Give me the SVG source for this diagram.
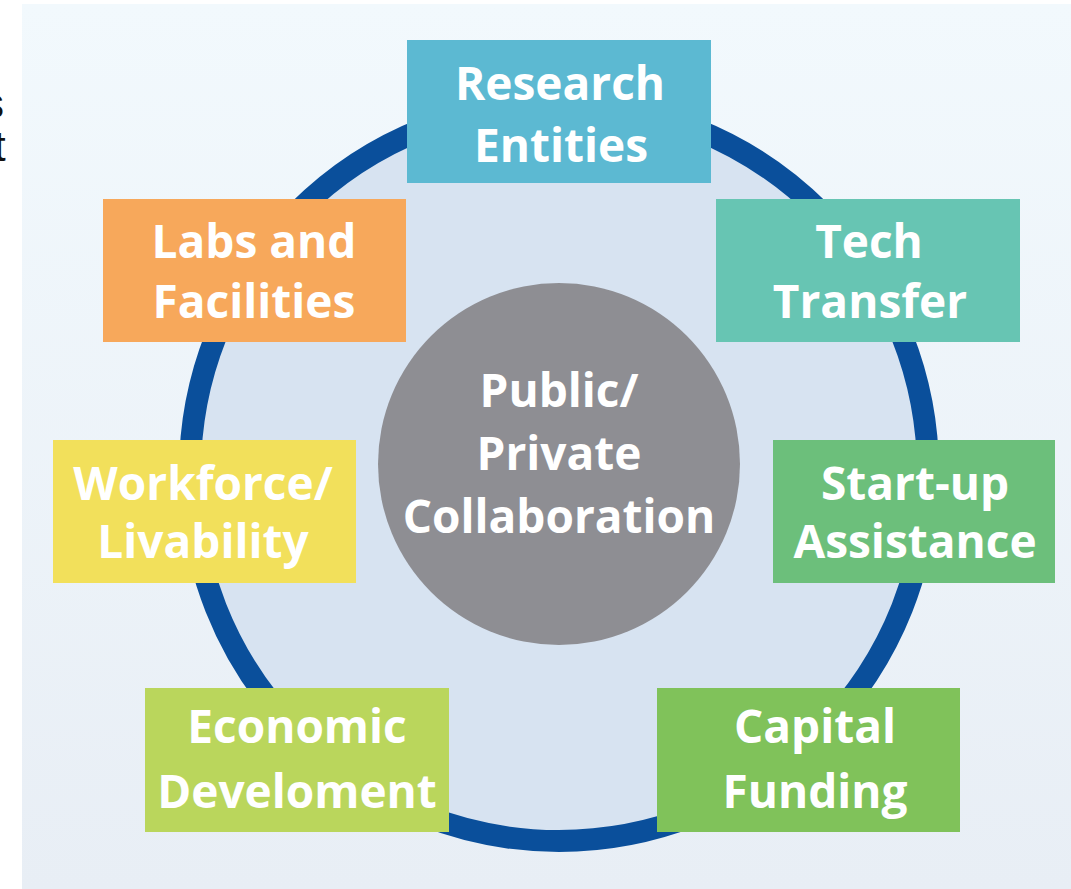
<svg xmlns="http://www.w3.org/2000/svg" width="1071" height="889" viewBox="0 0 1071 889">
<defs>
<linearGradient id="bg" x1="0" y1="0" x2="0" y2="1">
<stop offset="0" stop-color="#f2f9fd"/>
<stop offset="1" stop-color="#e8eef5"/>
</linearGradient>
</defs>
<style>
.lbl{font-family:"Open Sans","Noto Sans","Liberation Sans",sans-serif;font-weight:bold;font-size:46px;fill:#ffffff;text-anchor:middle}
.edge{font-family:"Liberation Sans",sans-serif;font-size:42px;fill:#111}
</style>
<rect x="0" y="0" width="1071" height="889" fill="#ffffff"/>
<text class="edge" x="-17" y="118">s</text>
<text class="edge" x="-6" y="161">t</text>
<rect x="22" y="4" width="1049" height="885" fill="url(#bg)"/>
<g id="connectors">
<circle cx="559" cy="472" r="369" fill="#d7e3f1" stroke="#0a4f9b" stroke-width="22"/>
</g>
<g id="center">
<circle cx="559" cy="464" r="181" fill="#8e8e93"/>
<text class="lbl" x="559" y="407">Public/</text>
<text class="lbl" x="559" y="470">Private</text>
<text class="lbl" x="559" y="533">Collaboration</text>
</g>
<g id="research">
<rect x="407" y="40" width="304" height="143" fill="#5cb9d2"/>
<text class="lbl" x="560" y="100">Research</text>
<text class="lbl" x="561" y="162">Entities</text>
</g>
<g id="labs">
<rect x="103" y="199" width="303" height="143" fill="#f7a85b"/>
<text class="lbl" x="254" y="258">Labs and</text>
<text class="lbl" x="254" y="318">Facilities</text>
</g>
<g id="tech">
<rect x="716" y="199" width="304" height="143" fill="#67c5b3"/>
<text class="lbl" x="869" y="258">Tech</text>
<text class="lbl" x="870" y="318">Transfer</text>
</g>
<g id="workforce">
<rect x="53" y="440" width="303" height="143" fill="#f2e05b"/>
<text class="lbl" x="203" y="500">Workforce/</text>
<text class="lbl" x="203" y="558">Livability</text>
</g>
<g id="startup">
<rect x="773" y="440" width="282" height="143" fill="#6cbf7b"/>
<text class="lbl" x="915" y="500">Start-up</text>
<text class="lbl" x="915" y="558">Assistance</text>
</g>
<g id="economic">
<rect x="145" y="688" width="304" height="144" fill="#bad65c"/>
<text class="lbl" x="297" y="743">Economic</text>
<text class="lbl" x="297" y="808">Develoment</text>
</g>
<g id="capital">
<rect x="657" y="688" width="303" height="144" fill="#80c25a"/>
<text class="lbl" x="815" y="743">Capital</text>
<text class="lbl" x="815" y="808">Funding</text>
</g>
</svg>
